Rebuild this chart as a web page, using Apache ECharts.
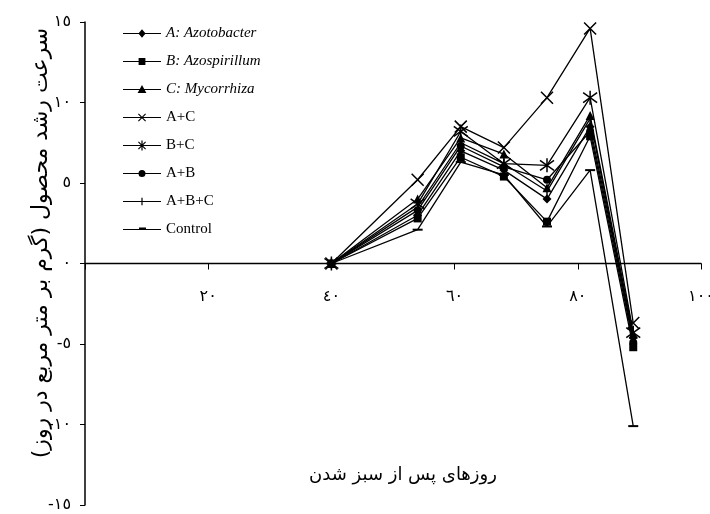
<!DOCTYPE html>
<html>
<head>
<meta charset="utf-8">
<script src="https://cdn.jsdelivr.net/npm/echarts@6/dist/echarts.min.js"></script>
<style>html,body{margin:0;padding:0;background:#fff}#c{width:710px;height:514px}</style>
</head>
<body>
<div id="c"></div>
<script>
const days = [40, 54, 61, 68, 75, 82, 89];
const serA   = [0, 3.0, 7.0, 5.8, 4.0, 8.5, -4.6];
const serB   = [0, 2.8, 6.6, 5.4, 2.6, 7.9, -5.2];
const serC   = [0, 4.0, 7.8, 6.8, 4.7, 9.2, -4.4];
const serAC  = [0, 5.2, 8.5, 7.2, 10.3, 14.6, -3.7];
const serBC  = [0, 3.7, 8.2, 6.2, 6.1, 10.3, -4.3];
const serAB  = [0, 3.3, 7.3, 6.0, 5.2, 8.2, -4.9];
const serABC = [0, 3.5, 7.5, 6.2, 4.5, 9.0, -4.7];
const serCtl = [0, 2.1, 6.3, 5.5, 2.3, 5.8, -10.1];
const names = ['A: Azotobacter', 'B: Azospirillum', 'C: Mycorrhiza', 'A+C', 'B+C', 'A+B', 'A+B+C', 'Control'];
const xTickLabels = {0: '', 20: '٢٠', 40: '٤٠', 60: '٦٠', 80: '٨٠', 100: '١٠٠'};
const yTickLabels = {'-15': '-١٥', '-10': '-١٠', '-5': '-٥', '0': '٠', '5': '٥', '10': '١٠', '15': '١٥'};
const yTitle = 'سرعت رشد محصول (گرم بر متر مربع در روز)';
const xTitle = 'روزهای پس از سبز شدن';

// legend icon shapes drawn in a 38x10 box (line + marker)
const box = 'M0,0L0.01,0L0,0.01Z M38,10L37.99,10L38,9.99Z ';
const line = 'M0,4.4L38,4.4L38,5.6L0,5.6Z ';
const xMark = 'M15,1.8L15.8,1L23,8.2L22.2,9Z M22.2,1L23,1.8L15.8,9L15,8.2Z ';
const icons = [
  box + line + 'M19,0.8L22.6,5L19,9.2L15.4,5Z',
  box + line + 'M15.6,1.6L22.4,1.6L22.4,8.4L15.6,8.4Z',
  box + line + 'M19,0.6L23.4,8.6L14.6,8.6Z',
  box + line + xMark,
  box + line + xMark + 'M18.4,0L19.6,0L19.6,10L18.4,10Z',
  box + line + 'M15.5,5A3.5,3.5 0 1 1 22.5,5A3.5,3.5 0 1 1 15.5,5Z',
  box + line + 'M18.4,1.2L19.6,1.2L19.6,8.8L18.4,8.8Z',
  box + line + 'M16,3L23,3L23,4.6L16,4.6Z'
];

const allData = [serA, serB, serC, serAC, serBC, serAB, serABC, serCtl];
const symbols = [
  {s: 'diamond', size: 9},
  {s: 'rect', size: 8},
  {s: 'triangle', size: 9},
  {s: 'path://M0,0L10,10M10,0L0,10', size: 12},
  {s: 'path://M0,0L10,10M10,0L0,10M5,-2L5,12', size: 14},
  {s: 'circle', size: 8},
  {s: 'rect', size: [1.5, 10]},
  {s: 'rect', size: [10, 2]}
];

const chart = echarts.init(document.getElementById('c'));
const series = allData.map((arr, i) => ({
  name: names[i],
  type: 'line',
  data: arr.map((v, j) => [days[j], v]),
  symbol: symbols[i].s,
  symbolSize: symbols[i].size,
  showAllSymbol: true,
  color: '#000',
  lineStyle: {color: '#000', width: 1.3},
  itemStyle: {color: '#000', borderColor: '#000', borderWidth: (i === 3 || i === 4) ? 1.5 : 0},
  emphasis: {disabled: true},
  animation: false,
  z: 2
}));

chart.setOption({
  animation: false,
  backgroundColor: '#fff',
  grid: {left: 85, right: 9, top: 22, bottom: 9, containLabel: false, outerBoundsMode: 'none'},
  legend: {
    orient: 'vertical',
    left: 118,
    top: 21,
    itemWidth: 38,
    itemHeight: 10,
    itemGap: 13,
    textStyle: {fontFamily: 'Liberation Serif', fontSize: 15, color: '#000'},
    data: names.map((n, i) => ({
      name: n,
      icon: 'path://' + icons[i],
      itemStyle: {color: '#000', borderWidth: 0},
      textStyle: {fontStyle: i < 3 ? 'italic' : 'normal'}
    }))
  },
  xAxis: {
    type: 'value', min: 0, max: 100, interval: 20,
    position: 'bottom',
    offset: -241.5,
    axisLine: {onZero: false, lineStyle: {color: '#000', width: 1.3}},
    axisTick: {show: true, length: 6, lineStyle: {color: '#000'}},
    splitLine: {show: false},
    axisLabel: {
      margin: 25, color: '#000', fontFamily: 'DejaVu Sans', fontSize: 16,
      showMaxLabel: true,
      formatter: v => xTickLabels[v] !== undefined ? xTickLabels[v] : ''
    }
  },
  yAxis: {
    type: 'value', min: -15, max: 15, interval: 5,
    axisLine: {onZero: false, lineStyle: {color: '#000', width: 1.5}},
    axisTick: {show: true, length: 5, lineStyle: {color: '#000'}},
    splitLine: {show: false},
    axisLabel: {
      margin: 14, color: '#000', fontFamily: 'DejaVu Sans', fontSize: 16,
      formatter: v => yTickLabels[String(v)] !== undefined ? yTickLabels[String(v)] : ''
    }
  },
  graphic: [
    {type: 'text', x: 41, y: 243, rotation: Math.PI / 2,
     style: {text: yTitle, fontFamily: 'DejaVu Sans', fontSize: 22, fill: '#000', align: 'center', verticalAlign: 'middle'}},
    {type: 'text', x: 403, y: 475,
     style: {text: xTitle, fontFamily: 'DejaVu Sans', fontSize: 18, fill: '#000', align: 'center', verticalAlign: 'middle'}}
  ],
  series: series
});
</script>
</body>
</html>
